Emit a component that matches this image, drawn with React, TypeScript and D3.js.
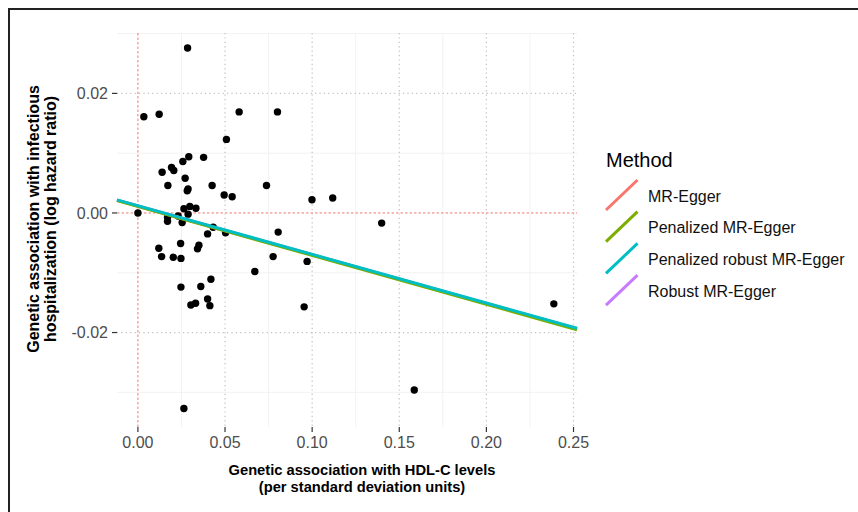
import React from "react";
import * as d3 from "d3";

const xs = [0, 0.0034, 0.0122, 0.0285, 0.0581, 0.0801, 0.0508, 0.0292, 0.0258, 0.0377, 0.0139, 0.0193, 0.0206, 0.0271, 0.0172, 0.0288, 0.0283, 0.0426, 0.0495, 0.0541, 0.0738, 0.0999, 0.1118, 0.1399,
  0.0264, 0.0298, 0.0333, 0.017, 0.017, 0.0231, 0.0254, 0.0288,
  0.04, 0.0432, 0.0503, 0.0805, 0.012, 0.0136, 0.0203, 0.0247, 0.0245, 0.035, 0.0342, 0.0671, 0.0776, 0.0971, 0.0419, 0.0247, 0.0361, 0.04, 0.0304, 0.0331, 0.0413, 0.0954, 0.1586, 0.2387, 0.0264];
const ys = [0, 0.0161, 0.0165, 0.0276, 0.0169, 0.0169, 0.0123, 0.0094, 0.0086, 0.0093, 0.0068, 0.0076, 0.0071, 0.0058, 0.0046, 0.004, 0.0037, 0.0046, 0.003, 0.0027, 0.0046, 0.0022, 0.0025, -0.0017,
  0.0007, 0.0011, 0.0008, -0.0007, -0.0014, -0.0005, -0.0016, -0.0002,
  -0.0035, -0.0024, -0.0033, -0.0032, -0.0059, -0.0073, -0.0074, -0.0076, -0.0051, -0.0054, -0.006, -0.0098, -0.0073, -0.0081, -0.0111, -0.0124, -0.0123, -0.0144, -0.0154, -0.0151, -0.0155, -0.0157, -0.0296, -0.0152, -0.0327];

const methods = ["MR-Egger", "Penalized MR-Egger", "Penalized robust MR-Egger", "Robust MR-Egger"];
const methodColors = ["#F8766D", "#7CAE00", "#00BFC4", "#C77CFF"];
const intercepts = [0.00115, 0.00108, 0.00122, 0.00117];
const slopes = [-0.0815, -0.0818, -0.0814, -0.0815];
const drawOrder = [0, 3, 1, 2];

const xTicks = [0, 0.05, 0.1, 0.15, 0.2, 0.25];
const xTickLabels = ["0.00", "0.05", "0.10", "0.15", "0.20", "0.25"];
const yTicks = [0.02, 0, -0.02];
const yTickLabels = ["0.02", "0.00", "-0.02"];
const xMinor = [0.025, 0.075, 0.125, 0.175, 0.225];
const yMinor = [0.03, 0.01, -0.01, -0.03];

const FONT = "Liberation Sans, Arial, Helvetica, sans-serif";

export default function App() {
  const L = 117, R = 577, T = 33, B = 427;
  const x = d3.scaleLinear().domain([-0.012, 0.252]).range([L, R]);
  const y = d3.scaleLinear().domain([-0.0358, 0.0301]).range([B, T]);
  const [x0, x1] = x.domain();

  return (
    <svg width={858} height={512} style={{ position: "absolute", left: 0, top: 0, background: "#fff" }}>
      <rect x={0} y={0} width={858} height={512} fill="#fff" />
      {/* frame */}
      <line x1={8} y1={9} x2={858} y2={9} stroke="#222" strokeWidth={2} />
      <line x1={9} y1={8} x2={9} y2={512} stroke="#222" strokeWidth={2} />

      {/* minor grid */}
      {xMinor.map((v, i) => (
        <line key={"xm" + i} x1={x(v)} x2={x(v)} y1={T} y2={B} stroke="#F2F2F2" strokeWidth={1} />
      ))}
      {yMinor.map((v, i) => (
        <line key={"ym" + i} x1={L} x2={R} y1={y(v)} y2={y(v)} stroke="#F2F2F2" strokeWidth={1} />
      ))}
      {/* major grid */}
      {xTicks.filter((v) => v !== 0).map((v, i) => (
        <line key={"xg" + i} x1={x(v)} x2={x(v)} y1={T} y2={B} stroke="#C4BCBC" strokeWidth={1.2} strokeDasharray="1.2,3.2" />
      ))}
      {yTicks.filter((v) => v !== 0).map((v, i) => (
        <line key={"yg" + i} x1={L} x2={R} y1={y(v)} y2={y(v)} stroke="#C4BCBC" strokeWidth={1.2} strokeDasharray="1.2,3.2" />
      ))}
      {/* reference lines */}
      <line x1={x(0)} x2={x(0)} y1={T} y2={B} stroke="#EE7B74" strokeWidth={1} strokeDasharray="2.5,2" />
      <line x1={L} x2={R} y1={y(0)} y2={y(0)} stroke="#EE7B74" strokeWidth={1} strokeDasharray="2.5,2" />

      {/* points */}
      {xs.map((v, i) => (
        <circle key={"p" + i} cx={x(v)} cy={y(ys[i])} r={3.7} fill="#000" />
      ))}

      {/* fitted lines */}
      {drawOrder.map((m) => (
        <line
          key={"l" + m}
          x1={x(x0)}
          y1={y(intercepts[m] + slopes[m] * x0)}
          x2={x(x1)}
          y2={y(intercepts[m] + slopes[m] * x1)}
          stroke={methodColors[m]}
          strokeWidth={3}
        />
      ))}

      {/* axes ticks */}
      {xTicks.map((v, i) => (
        <g key={"xt" + i}>
          <line x1={x(v)} x2={x(v)} y1={B} y2={B + 5} stroke="#333" strokeWidth={1.2} />
          <text x={x(v)} y={448} textAnchor="middle" fontFamily={FONT} fontSize={16} fill="#4D4D4D">
            {xTickLabels[i]}
          </text>
        </g>
      ))}
      {yTicks.map((v, i) => (
        <g key={"yt" + i}>
          <line x1={L - 5} x2={L} y1={y(v)} y2={y(v)} stroke="#333" strokeWidth={1.2} />
          <text x={108} y={y(v) + 5.7} textAnchor="end" fontFamily={FONT} fontSize={16} fill="#4D4D4D">
            {yTickLabels[i]}
          </text>
        </g>
      ))}

      {/* axis titles */}
      <text x={362} y={475} textAnchor="middle" fontFamily={FONT} fontSize={14.7} fontWeight="bold" fill="#000">
        Genetic association with HDL-C levels
      </text>
      <text x={362} y={491.5} textAnchor="middle" fontFamily={FONT} fontSize={14.7} fontWeight="bold" fill="#000">
        (per standard deviation units)
      </text>
      <g transform="translate(39,219) rotate(-90)">
        <text x={0} y={0} textAnchor="middle" fontFamily={FONT} fontSize={16} fontWeight="bold" fill="#000">
          Genetic association with infectious
        </text>
        <text x={0} y={17} textAnchor="middle" fontFamily={FONT} fontSize={16} fontWeight="bold" fill="#000">
          hospitalization (log hazard ratio)
        </text>
      </g>

      {/* legend */}
      <text x={606} y={167} fontFamily={FONT} fontSize={20} fill="#000">
        Method
      </text>
      {methods.map((m, i) => {
        const cy = 195 + i * 31.7;
        return (
          <g key={"lg" + i}>
            <line x1={606} y1={cy + 15} x2={637.5} y2={cy - 15} stroke={methodColors[i]} strokeWidth={3} />
            <text x={648} y={cy + 6.5} fontFamily={FONT} fontSize={16} fill="#111">
              {m}
            </text>
          </g>
        );
      })}
    </svg>
  );
}
